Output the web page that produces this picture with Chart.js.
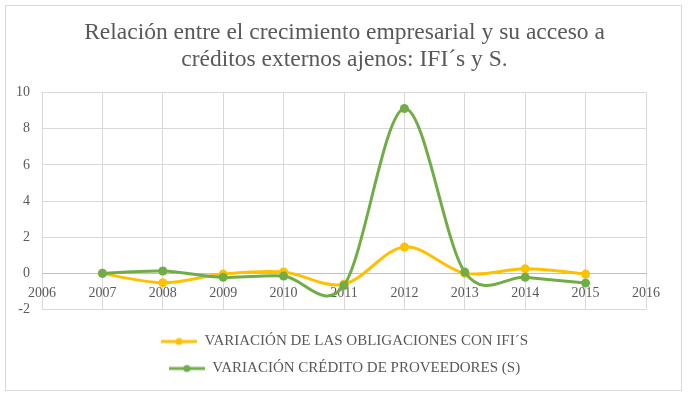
<!DOCTYPE html>
<html lang="es">
<head>
<meta charset="utf-8">
<script src="https://cdn.jsdelivr.net/npm/chart.js@4/dist/chart.umd.min.js"></script>
<style>
  body { margin: 0; background: #fff; }
  #wrap { position: relative; width: 689px; height: 397px; }
  #frame { position: absolute; left: 5px; top: 5px; width: 675px; height: 384px; border: 1px solid #d9d9d9; }
  #chart { position: absolute; left: 0; top: 0; }
</style>
</head>
<body>
<div id="wrap">
  <div id="frame"></div>
  <canvas id="chart" width="689" height="397"></canvas>
</div>
<script>
// chart values
const years = [2007, 2008, 2009, 2010, 2011, 2012, 2013, 2014, 2015];
const obligacionesIfi = [0, -0.52, -0.04, 0.08, -0.6, 1.46, 0, 0.25, -0.04];
const creditoProveedores = [0, 0.13, -0.22, -0.15, -0.67, 9.12, 0.07, -0.22, -0.54];
const seriesNames = ['VARIACIÓN DE LAS OBLIGACIONES CON IFI´S', 'VARIACIÓN CRÉDITO DE PROVEEDORES (S)'];
const titleLines = ['Relación entre el crecimiento empresarial y su acceso a', 'créditos externos ajenos: IFI´s y S.'];
const xTicks = { min: 2006, max: 2016, step: 1 };
const yTicks = { min: -2, max: 10, step: 2 };

const colors = ['#ffc000', '#70ad47'];
const textColor = '#595959';
const serif = "'Liberation Serif', 'Times New Roman', serif";

// little line-with-dot used as legend symbol
function legendSymbol(color) {
    const c = document.createElement('canvas');
    c.width = 36;
    c.height = 10;
    const g = c.getContext('2d');
    g.strokeStyle = color;
    g.lineWidth = 3;
    g.beginPath();
    g.moveTo(0, 5);
    g.lineTo(36, 5);
    g.stroke();
    g.fillStyle = color;
    g.beginPath();
    g.arc(18, 5, 3.5, 0, Math.PI * 2);
    g.fill();
    return c;
}

// office-style smoothing: plain catmull-rom handles (1/6 of neighbour chord)
const smoothLines = {
    id: 'smoothLines',
    beforeDatasetDraw(chart, args) {
        const meta = args.meta;
        const line = meta.dataset;
        if (!line) return;
        line.updateControlPoints(chart.chartArea, meta.iScale.axis);
        const pts = line.points;
        pts.forEach((p, i) => {
            const prev = pts[i - 1] || p;
            const next = pts[i + 1] || p;
            p.cp1x = p.x - (next.x - prev.x) / 6;
            p.cp1y = p.y - (next.y - prev.y) / 6;
            p.cp2x = p.x + (next.x - prev.x) / 6;
            p.cp2y = p.y + (next.y - prev.y) / 6;
        });
    }
};

const toPoints = vals => vals.map((v, i) => ({ x: years[i], y: v }));

const datasets = [obligacionesIfi, creditoProveedores].map((vals, i) => ({
    label: seriesNames[i],
    data: toPoints(vals),
    borderColor: colors[i],
    backgroundColor: colors[i],
    borderWidth: 3,
    pointRadius: 4.5,
    pointHoverRadius: 4.5,
    pointBorderWidth: 0,
    tension: 0.4,
    fill: false,
    order: 2 - i
}));

new Chart(document.getElementById('chart'), {
    type: 'line',
    data: { datasets },
    plugins: [smoothLines],
    options: {
        responsive: false,
        animation: false,
        layout: { padding: { left: 4, right: 4, top: 8, bottom: 11 } },
        plugins: {
            tooltip: { enabled: false },
            title: {
                display: true,
                text: titleLines,
                color: textColor,
                font: { family: serif, size: 23.5, weight: 'normal', lineHeight: 1.13 },
                padding: { top: 11.5, bottom: 20 }
            },
            legend: {
                position: 'bottom',
                title: { display: true, text: '', font: { size: 10, lineHeight: 1.25 }, padding: 0 },
                labels: {
                    color: textColor,
                    font: { family: serif, size: 15 },
                    padding: 12,
                    usePointStyle: true,
                    pointStyleWidth: 36,
                    sort: (a, b) => a.datasetIndex - b.datasetIndex,
                    generateLabels: chart => Chart.defaults.plugins.legend.labels.generateLabels(chart)
                        .map(item => ({ ...item, pointStyle: legendSymbol(colors[item.datasetIndex]) }))
                }
            }
        },
        scales: {
            x: {
                type: 'linear',
                position: { y: 0 },
                min: xTicks.min,
                max: xTicks.max,
                grid: { color: '#d9d9d9', drawTicks: false },
                border: { display: true, color: '#bfbfbf', width: 1 },
                ticks: {
                    stepSize: xTicks.step,
                    padding: 12,
                    color: textColor,
                    font: { family: serif, size: 14 },
                    maxRotation: 0,
                    callback: v => String(v)
                }
            },
            y: {
                min: yTicks.min,
                max: yTicks.max,
                grid: { color: '#d9d9d9', drawTicks: false },
                border: { display: false },
                ticks: {
                    stepSize: yTicks.step,
                    padding: 12,
                    color: textColor,
                    font: { family: serif, size: 14 }
                }
            },
            // empty right-hand strip, keeps the plot off the right edge
            yRight: {
                position: 'right',
                min: yTicks.min,
                max: yTicks.max,
                grid: { display: false },
                border: { display: false },
                ticks: { display: false },
                afterFit: scale => { scale.width = 39; }
            }
        }
    }
});
</script>
</body>
</html>
